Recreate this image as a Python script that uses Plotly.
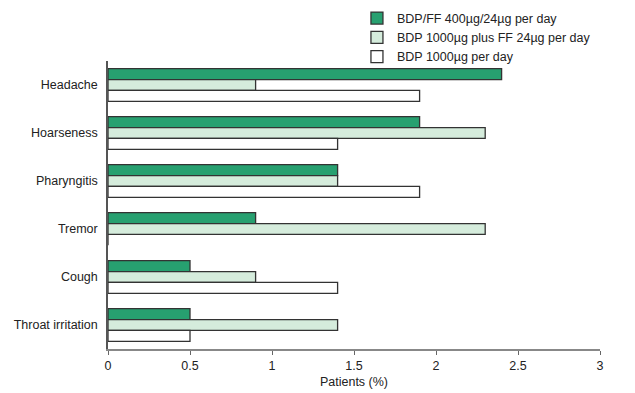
import plotly.graph_objects as go

categories = ["Headache", "Hoarseness", "Pharyngitis", "Tremor", "Cough", "Throat irritation"]
series_names = ["BDP/FF 400µg/24µg per day", "BDP 1000µg plus FF 24µg per day", "BDP 1000µg per day"]
bdp_ff = [2.4, 1.9, 1.4, 0.9, 0.5, 0.5]
bdp_plus_ff = [0.9, 2.3, 1.4, 2.3, 0.9, 1.4]
bdp_only = [1.9, 1.4, 1.9, 0.0, 1.4, 0.5]
x_ticks = [0, 0.5, 1, 1.5, 2, 2.5, 3]
x_tick_labels = ["0", "0.5", "1", "1.5", "2", "2.5", "3"]

colors = ["#27A070", "#D5ECDC", "#FFFFFF"]

fig = go.Figure()
for name, vals, col in zip(series_names, [bdp_ff, bdp_plus_ff, bdp_only], colors):
    fig.add_trace(go.Bar(
        y=categories, x=vals, name=name, orientation="h",
        marker=dict(color=col, line=dict(color="#333333", width=1.3)),
    ))

fig.update_layout(
    width=627, height=385,
    barmode="group", bargap=0.32, bargroupgap=0,
    plot_bgcolor="white", paper_bgcolor="white",
    margin=dict(l=100, r=35, t=53, b=44, autoexpand=False),
    font=dict(family="Liberation Sans, Arial, sans-serif", size=12.5, color="#222222"),
    legend=dict(x=0.506, xanchor="left", y=1.20, yanchor="top", yref="paper",
                traceorder="normal", font=dict(size=12.5), itemwidth=30,
                tracegroupgap=0, bgcolor="rgba(0,0,0,0)"),
    showlegend=True,
)
fig.update_xaxes(range=[0, 3], tickvals=x_ticks, ticktext=x_tick_labels,
                 showgrid=False, zeroline=False, showline=True, linecolor="#888888",
                 linewidth=1.5, ticks="outside", ticklen=4, tickcolor="#666666",
                 title=dict(text="Patients (%)", font=dict(size=12.5), standoff=5))
fig.update_yaxes(autorange=False, range=[5.5, -0.5], showgrid=False, zeroline=False,
                 showline=True, linecolor="#555555", linewidth=1.5, ticks="",
                 ticklabelstandoff=6)

fig.write_html("out.html")
